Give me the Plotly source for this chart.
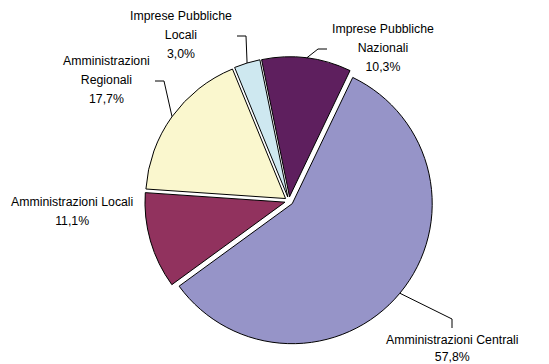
import math
import plotly.graph_objects as go

# ---- data -------------------------------------------------------------
categories = [
    "Imprese Pubbliche Nazionali",
    "Amministrazioni Centrali",
    "Amministrazioni Locali",
    "Amministrazioni Regionali",
    "Imprese Pubbliche Locali",
]
shares = [10.3, 57.8, 11.1, 17.7, 3.0]
label_names = [
    ["Imprese Pubbliche", "Nazionali"],
    ["Amministrazioni Centrali"],
    ["Amministrazioni Locali"],
    ["Amministrazioni", "Regionali"],
    ["Imprese Pubbliche", "Locali"],
]
colors = ["#5E1F5E", "#9694C8", "#91325E", "#FAF7CE", "#CEE8F0"]

# ---- geometry -----------------------------------------------------------
W, H = 549, 364
PULL = 0.03
ROTATION = -11.5
CX, CY, R = 289, 201, 140          # pie centre / radius in pixels
box = 2 * R * (1 + PULL)
dom_x = [(CX - box / 2) / W, (CX + box / 2) / W]
dom_y = [1 - (CY + box / 2) / H, 1 - (CY - box / 2) / H]


def px(x):
    return x / W


def py(y):
    return 1 - y / H


total = sum(shares)
mid_angles = []
a = ROTATION
for v in shares:
    span = v / total * 360
    mid_angles.append(a + span / 2)
    a += span

# label placement (pixels) and leader style
label_layout = {
    "Imprese Pubbliche Nazionali": dict(x=330, y=48, xanchor="left", yanchor="middle", leader="h", gap=14.6),
    "Amministrazioni Centrali": dict(x=452, y=331, xanchor="center", yanchor="top", leader="v", gap=13.4),
    "Amministrazioni Locali": dict(x=72, y=211, xanchor="center", yanchor="middle", leader=None, gap=14.6),
    "Amministrazioni Regionali": dict(x=152, y=80, xanchor="right", yanchor="middle", leader="h", gap=14.6),
    "Imprese Pubbliche Locali": dict(x=234, y=35, xanchor="right", yanchor="middle", leader="h", gap=14.6),
}

fig = go.Figure(
    go.Pie(
        labels=categories,
        values=shares,
        sort=False,
        direction="clockwise",
        rotation=ROTATION,
        pull=[PULL] * len(shares),
        marker=dict(colors=colors, line=dict(color="#000000", width=1)),
        textinfo="none",
        hoverinfo="label+percent",
        domain=dict(x=dom_x, y=dom_y),
        showlegend=False,
    )
)

annotations = []
shapes = []
for name, v, lines, mid in zip(categories, shares, label_names, mid_angles):
    cfg = label_layout[name]
    pct = f"{v:.1f}".replace(".", ",") + "%"
    all_lines = lines + [pct]
    # outer font size sets the line pitch, inner span sets the glyph size
    text = "<br>".join(f"<span style='font-size:12.3px'>{t}</span>" for t in all_lines)
    annotations.append(dict(
        x=px(cfg["x"]), y=py(cfg["y"]), xref="paper", yref="paper",
        xanchor=cfg["xanchor"], yanchor=cfg["yanchor"], align="center",
        text=text, showarrow=False,
        font=dict(family="Liberation Sans, Arial, sans-serif", size=cfg["gap"], color="#000000"),
    ))
    if cfg["leader"] is None:
        continue
    rad = math.radians(mid)
    sx = CX + R * (1 + PULL) * math.sin(rad)
    sy = CY - R * (1 + PULL) * math.cos(rad)
    if cfg["leader"] == "h":
        sgn = -1 if cfg["xanchor"] == "left" else 1
        ex, ey = cfg["x"] + sgn * 12, cfg["y"] + 1
        fx, fy = cfg["x"] + sgn * 3, cfg["y"] + 1
    else:
        ex, ey = cfg["x"], cfg["y"] - 12
        fx, fy = cfg["x"], cfg["y"] - 3
    path = f"M {px(sx)},{py(sy)} L {px(ex)},{py(ey)} L {px(fx)},{py(fy)}"
    shapes.append(dict(type="path", xref="paper", yref="paper", path=path,
                       line=dict(color="#000000", width=1)))

fig.update_layout(
    width=W, height=H,
    margin=dict(l=0, r=0, t=0, b=0),
    paper_bgcolor="#FFFFFF", plot_bgcolor="#FFFFFF",
    annotations=annotations, shapes=shapes,
)

fig.write_html("out.html")
